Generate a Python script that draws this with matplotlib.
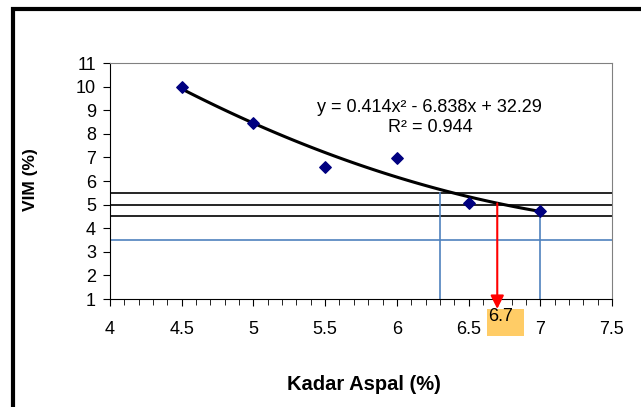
import numpy as np
import matplotlib.pyplot as plt
from matplotlib.patches import Rectangle
from matplotlib.ticker import MultipleLocator

plt.rcParams['font.family'] = ['Liberation Sans', 'DejaVu Sans']

# data
kadar_aspal = [4.5, 5.0, 5.5, 6.0, 6.5, 7.0]
vim = [10.0, 8.45, 6.6, 6.98, 5.05, 4.73]
coef = [0.414, -6.838, 32.29]
r2 = 0.944

black_levels = [5.5, 5.0, 4.5]
blue_level = 3.5
blue_x = [6.3, 7.0]
blue_top = [5.5, 4.75]
result_x = 6.7
result_y = 5.05

fig = plt.figure(figsize=(6.41, 4.07), dpi=100)
ax = fig.add_axes([110 / 641, 1 - 299 / 407, 502 / 641, 236 / 407])

# outer frame
fig.patches.append(Rectangle((13 / 641, -0.1), 1.2, 1 - 9 / 407 + 0.1,
                             transform=fig.transFigure, fill=False,
                             edgecolor='black', linewidth=3))

ax.set_xlim(4, 7.5)
ax.set_ylim(1, 11)

for lv in black_levels:
    ax.axhline(lv, color='black', linewidth=1.2, zorder=2)
ax.axhline(blue_level, color='#4F81BD', linewidth=1.2, zorder=2)
for bx, bt in zip(blue_x, blue_top):
    ax.plot([bx, bx], [1, bt], color='#4F81BD', linewidth=1.2, zorder=2)

xs = np.linspace(kadar_aspal[0], kadar_aspal[-1], 100)
ax.plot(xs, np.polyval(coef, xs), color='black', linewidth=2.2, zorder=3)
ax.scatter(kadar_aspal, vim, marker='D', s=34, color='#000080', zorder=4)

# label box for the result
ax.add_patch(Rectangle((result_x - 0.071, -0.57), 0.258, 1.145,
                       facecolor='#FFCC66', edgecolor='none',
                       clip_on=False, zorder=4))
ax.text(result_x - 0.065, 0.6, '6.7', fontsize=13, ha='left', va='top',
        zorder=5, clip_on=False)
ax.annotate('', xy=(result_x, 0.58), xytext=(result_x, result_y),
            arrowprops=dict(arrowstyle='-|>', color='red', lw=1.5,
                            mutation_scale=20, shrinkA=0, shrinkB=0),
            annotation_clip=False, zorder=6)

ax.text(6.23, 9.1, 'y = %.3fx² - %.3fx + %.2f' % (coef[0], -coef[1], coef[2]),
        fontsize=13, ha='center', va='center')
ax.text(6.23, 8.25, 'R² = %.3f' % r2, fontsize=13, ha='center', va='center')

ax.xaxis.set_minor_locator(MultipleLocator(0.1))
ax.set_xticks(np.arange(4, 7.51, 0.5))
ax.set_xticklabels(['4', '4.5', '5', '5.5', '6', '6.5', '7', '7.5'])
ax.set_yticks(range(1, 12))
ax.tick_params(axis='x', which='major', direction='out', length=5,
               labelsize=13, pad=11)
ax.tick_params(axis='x', which='minor', direction='out', length=4)
ax.tick_params(axis='y', direction='out', length=5, labelsize=13, pad=5)

for s in ['top', 'right']:
    ax.spines[s].set_color('#808080')
for s in ['left', 'bottom']:
    ax.spines[s].set_color('black')

fig.text(364 / 641, 1 - 385 / 407, 'Kadar Aspal (%)', fontsize=14.5,
         fontweight='bold', ha='center', va='center')
fig.text(30 / 641, 1 - 180 / 407, 'VIM (%)', fontsize=12.5, fontweight='bold',
         ha='center', va='center', rotation=90)

fig.savefig('out.png', dpi=100)
